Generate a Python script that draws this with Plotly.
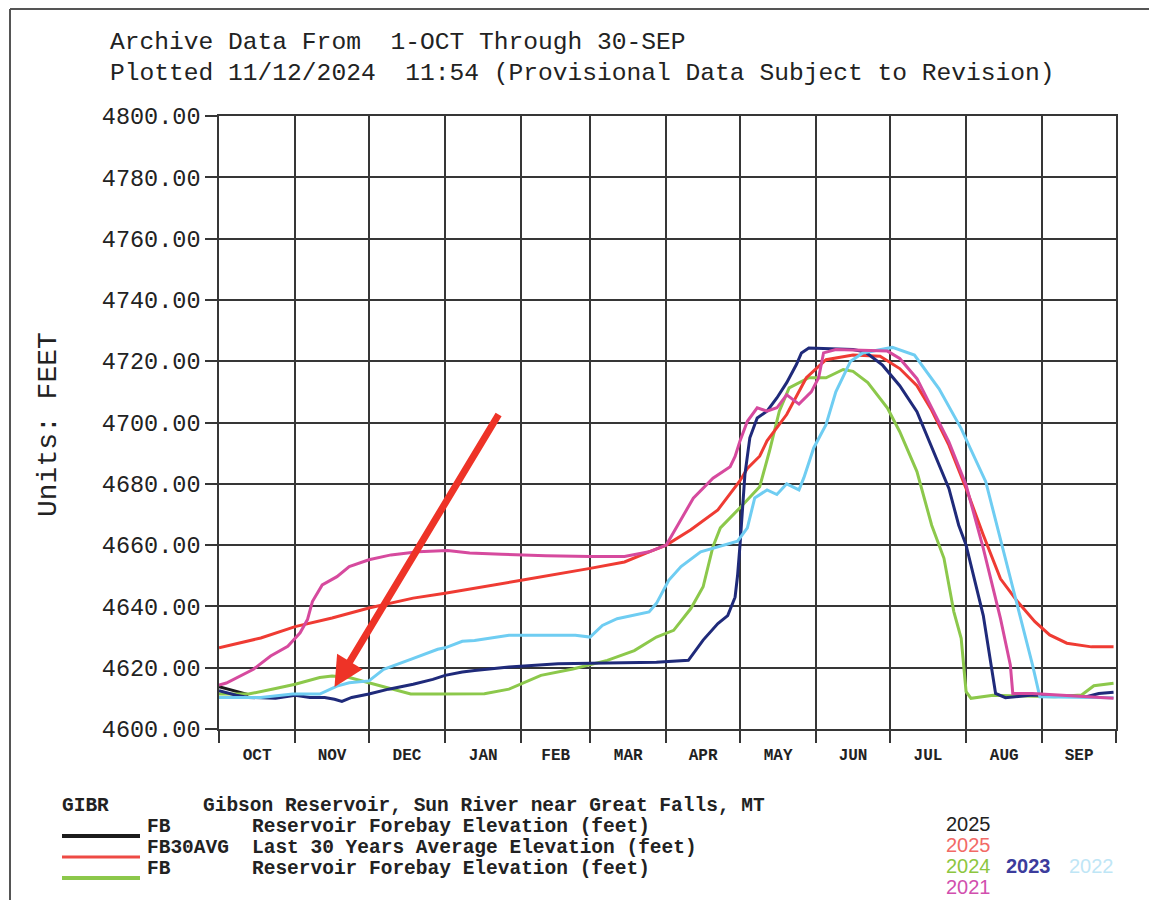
import plotly.graph_objects as go

# ---------------- data ----------------
month_starts = ["2024-10-01", "2024-11-01", "2024-12-01", "2025-01-01", "2025-02-01",
                "2025-03-01", "2025-04-01", "2025-05-01", "2025-06-01", "2025-07-01",
                "2025-08-01", "2025-09-01", "2025-10-01"]
month_mids = ["2024-10-16 12:00", "2024-11-16", "2024-12-16 12:00", "2025-01-16 12:00",
              "2025-02-15", "2025-03-16 12:00", "2025-04-16", "2025-05-16 12:00",
              "2025-06-16", "2025-07-16 12:00", "2025-08-16 12:00", "2025-09-16"]
month_labels = ["OCT", "NOV", "DEC", "JAN", "FEB", "MAR", "APR", "MAY", "JUN", "JUL", "AUG", "SEP"]
y_ticks = [4600, 4620, 4640, 4660, 4680, 4700, 4720, 4740, 4760, 4780, 4800]

wy2025_dates = ["2024-10-01", "2024-10-07", "2024-10-13"]
wy2025_vals = [4613.8, 4612.4, 4611.2]

avg30_dates = ["2024-10-01", "2024-10-18", "2024-11-01", "2024-11-16", "2024-12-01", "2024-12-19",
               "2025-01-01", "2025-01-08", "2025-02-01", "2025-03-01", "2025-03-15", "2025-03-25",
               "2025-04-01", "2025-04-11", "2025-04-22", "2025-05-01", "2025-05-04", "2025-05-09",
               "2025-05-12", "2025-05-20", "2025-05-28", "2025-06-05", "2025-06-16", "2025-06-27",
               "2025-07-05", "2025-07-12", "2025-07-18", "2025-07-25", "2025-08-01", "2025-08-08",
               "2025-08-15", "2025-08-22", "2025-08-29", "2025-09-04", "2025-09-11", "2025-09-21",
               "2025-09-30"]
avg30_vals = [4626.5, 4629.7, 4633.4, 4636.2, 4639.5, 4642.7,
              4644.3, 4645.3, 4648.5, 4652.4, 4654.5, 4657.8,
              4660.0, 4665.0, 4671.5, 4681.0, 4685.0, 4689.0,
              4694.0, 4702.6, 4714.6, 4720.5, 4722.0, 4721.6,
              4717.6, 4712.0, 4704.0, 4692.6, 4678.5, 4663.3,
              4649.0, 4641.5, 4635.0, 4630.7, 4628.0, 4626.8,
              4626.8]

wy2024_dates = ["2024-10-01", "2024-10-13", "2024-10-24", "2024-11-01", "2024-11-11", "2024-11-16",
                "2024-11-23", "2024-12-01", "2024-12-10", "2024-12-18", "2024-12-29", "2025-01-17",
                "2025-01-27", "2025-02-09", "2025-02-22", "2025-03-08", "2025-03-19", "2025-03-28",
                "2025-04-04", "2025-04-11", "2025-04-16", "2025-04-18", "2025-04-20", "2025-04-23",
                "2025-04-29", "2025-05-01", "2025-05-09", "2025-05-13", "2025-05-17", "2025-05-21",
                "2025-05-29", "2025-06-05", "2025-06-12", "2025-06-16", "2025-06-22", "2025-06-30",
                "2025-07-05", "2025-07-12", "2025-07-18", "2025-07-23", "2025-07-27", "2025-07-30",
                "2025-08-01", "2025-08-03", "2025-08-12", "2025-09-06", "2025-09-17", "2025-09-22",
                "2025-09-30"]
wy2024_vals = [4611.4, 4611.4, 4613.2, 4614.6, 4616.8, 4617.3,
               4616.8, 4615.0, 4613.0, 4611.4, 4611.4, 4611.5,
               4613.0, 4617.5, 4619.6, 4622.4, 4625.6, 4630.0,
               4632.2, 4639.3, 4646.4, 4652.6, 4659.5, 4665.6,
               4670.4, 4672.2, 4679.0, 4690.7, 4703.7, 4711.3,
               4714.6, 4714.6, 4717.3, 4716.7, 4713.0, 4704.7,
               4697.0, 4684.0, 4666.5, 4655.7, 4638.3, 4629.6,
               4612.2, 4610.0, 4611.0, 4610.5, 4611.1, 4614.1,
               4614.9]

wy2023_dates = ["2024-10-01", "2024-10-08", "2024-10-13", "2024-10-24", "2024-11-01", "2024-11-07",
                "2024-11-13", "2024-11-17", "2024-11-20", "2024-11-24", "2024-12-01", "2024-12-09",
                "2024-12-19", "2024-12-27", "2025-01-01", "2025-01-08", "2025-01-13", "2025-01-27",
                "2025-02-16", "2025-03-08", "2025-03-28", "2025-04-10", "2025-04-16", "2025-04-22",
                "2025-04-26", "2025-04-29", "2025-04-30", "2025-05-01", "2025-05-02", "2025-05-03",
                "2025-05-05", "2025-05-08", "2025-05-12", "2025-05-16", "2025-05-20", "2025-05-24",
                "2025-05-26", "2025-05-29", "2025-06-16", "2025-06-21", "2025-06-28", "2025-07-05",
                "2025-07-12", "2025-07-18", "2025-07-25", "2025-07-29", "2025-08-01", "2025-08-08",
                "2025-08-13", "2025-08-17", "2025-08-28", "2025-09-19", "2025-09-24", "2025-09-30"]
wy2023_vals = [4612.5, 4611.0, 4610.3, 4610.0, 4611.0, 4610.3,
               4610.3, 4609.7, 4609.0, 4610.3, 4611.4, 4613.0,
               4614.6, 4616.2, 4617.5, 4618.6, 4619.1, 4620.2,
               4621.3, 4621.5, 4621.8, 4622.4, 4629.0, 4634.4,
               4637.0, 4643.0, 4650.0, 4660.0, 4672.0, 4683.0,
               4695.0, 4701.5, 4703.7, 4708.0, 4713.0, 4719.0,
               4722.7, 4724.3, 4723.8, 4723.0, 4718.7, 4712.0,
               4703.5, 4692.0, 4678.5, 4666.5, 4660.0, 4637.0,
               4611.6, 4610.2, 4611.1, 4610.5, 4611.6, 4612.0]

wy2022_dates = ["2024-10-01", "2024-10-18", "2024-10-31", "2024-11-11", "2024-11-18", "2024-11-23",
                "2024-12-01", "2024-12-07", "2024-12-18", "2024-12-29", "2025-01-01", "2025-01-08",
                "2025-01-13", "2025-01-27", "2025-02-23", "2025-03-01", "2025-03-06", "2025-03-12",
                "2025-03-25", "2025-03-28", "2025-04-02", "2025-04-07", "2025-04-15", "2025-04-22",
                "2025-04-30", "2025-05-04", "2025-05-07", "2025-05-12", "2025-05-16", "2025-05-20",
                "2025-05-25", "2025-05-27", "2025-05-31", "2025-06-05", "2025-06-09", "2025-06-15",
                "2025-06-20", "2025-07-02", "2025-07-11", "2025-07-21", "2025-07-30", "2025-08-09",
                "2025-08-15", "2025-08-22", "2025-08-28", "2025-08-31", "2025-09-30"]
wy2022_vals = [4610.3, 4610.3, 4611.4, 4611.4, 4614.0, 4615.1,
               4615.7, 4619.5, 4622.7, 4626.0, 4626.5, 4628.6,
               4628.9, 4630.6, 4630.6, 4630.0, 4633.8, 4636.0,
               4638.2, 4641.0, 4648.5, 4653.0, 4657.8, 4659.5,
               4661.3, 4665.6, 4675.4, 4678.0, 4676.5, 4680.0,
               4678.0, 4682.0, 4691.7, 4699.3, 4710.0, 4720.0,
               4722.7, 4724.5, 4722.0, 4711.0, 4698.0, 4680.7,
               4662.0, 4640.4, 4621.0, 4610.5, 4610.2]

wy2021_dates = ["2024-10-01", "2024-10-04", "2024-10-15", "2024-10-22", "2024-10-29", "2024-11-03",
                "2024-11-06", "2024-11-08", "2024-11-12", "2024-11-18", "2024-11-23", "2024-12-01",
                "2024-12-10", "2024-12-21", "2025-01-02", "2025-01-11", "2025-01-24", "2025-02-11",
                "2025-03-01", "2025-03-15", "2025-03-25", "2025-04-01", "2025-04-06", "2025-04-12",
                "2025-04-20", "2025-04-27", "2025-04-29", "2025-05-01", "2025-05-04", "2025-05-08",
                "2025-05-12", "2025-05-16", "2025-05-20", "2025-05-25", "2025-05-30", "2025-06-02",
                "2025-06-04", "2025-06-09", "2025-06-30", "2025-07-05", "2025-07-12", "2025-07-18",
                "2025-07-25", "2025-08-01", "2025-08-08", "2025-08-15", "2025-08-19", "2025-08-20",
                "2025-08-28", "2025-09-30"]
wy2021_vals = [4614.3, 4615.0, 4619.5, 4623.8, 4627.0, 4631.4,
               4635.7, 4641.6, 4647.0, 4649.7, 4653.0, 4655.2,
               4656.8, 4657.8, 4658.2, 4657.4, 4657.0, 4656.5,
               4656.3, 4656.3, 4657.8, 4660.0, 4667.0, 4675.3,
               4681.8, 4685.6, 4688.9, 4694.0, 4700.4, 4704.8,
               4703.7, 4704.8, 4709.0, 4706.0, 4710.0, 4714.6,
               4722.7, 4723.8, 4723.3, 4720.9, 4714.3, 4704.6,
               4693.7, 4679.6, 4658.9, 4636.0, 4620.9, 4611.6,
               4611.6, 4610.0]

# ---------------- styling ----------------
C_BLACK = "#1c1c1c"
C_RED = "#ef3b33"
C_GREEN = "#8cc84b"
C_NAVY = "#1f2a7a"
C_LBLUE = "#6fcdf2"
C_MAG = "#d64a9e"
GRID = "#363636"
MONO = "Liberation Mono, Courier New, monospace"

OFF = 8  # page body margin of the html page
W, H = 1157 - OFF, 900 - OFF
PLOT_L, PLOT_R, PLOT_T, PLOT_B = 219, 1116, 116, 729   # target page pixels
L, T = PLOT_L - OFF, PLOT_T - OFF
R, B = W - (PLOT_R - OFF), H - (PLOT_B - OFF)
PW, PH = W - L - R, H - T - B


def px(x):
    return (x - OFF - L) / PW


def py(y):
    return (H - B - (y - OFF)) / PH


fig = go.Figure()

series = [
    (wy2025_dates, wy2025_vals, C_BLACK, 3),
    (wy2024_dates, wy2024_vals, C_GREEN, 3),
    (avg30_dates, avg30_vals, C_RED, 3),
    (wy2023_dates, wy2023_vals, C_NAVY, 3),
    (wy2022_dates, wy2022_vals, C_LBLUE, 3),
    (wy2021_dates, wy2021_vals, C_MAG, 3),
]
for d, v, c, w in series:
    fig.add_trace(go.Scatter(x=d, y=v, mode="lines", line=dict(color=c, width=w),
                             showlegend=False, hoverinfo="skip"))

fig.update_layout(
    width=W, height=H,
    margin=dict(l=L, r=R, t=T, b=B, pad=0),
    paper_bgcolor="white", plot_bgcolor="white",
    showlegend=False,
    xaxis=dict(
        type="date", range=["2024-10-01", "2025-10-01"],
        tickmode="array", tickvals=month_mids, ticktext=month_labels,
        ticks="outside", ticklen=10, tickcolor="rgba(0,0,0,0)",
        showgrid=False, zeroline=False,
        tickfont=dict(family=MONO, size=16, color="#222", weight="bold"),
        showline=True, linecolor=GRID, linewidth=1.6, mirror=True,
        minor=dict(tickmode="array", tickvals=month_starts, ticks="outside", ticklen=12,
                   tickwidth=1.6, tickcolor=GRID, showgrid=True, gridcolor=GRID, gridwidth=1.6),
    ),
    yaxis=dict(
        range=[4600, 4800], tickmode="array", tickvals=y_ticks,
        tickformat=".2f", ticks="outside", ticklen=12, tickwidth=1.6, tickcolor=GRID,
        showgrid=True, gridcolor=GRID, gridwidth=1.6, zeroline=False,
        tickfont=dict(family=MONO, size=23.5, color="#222"),
        showline=True, linecolor=GRID, linewidth=1.6, mirror=True,
        ticklabelstandoff=0,
    ),
)

# outer frame (left + top edges of the scanned page)
for x0, y0, x1, y1 in [(10, 9, 10, 1000), (10, 9, 1250, 9)]:
    fig.add_shape(type="line", xref="paper", yref="paper",
                  x0=px(x0), x1=px(x1), y0=py(y0), y1=py(y1),
                  line=dict(color="#555", width=2), layer="below")

# red arrow pointing at November
fig.add_annotation(x="2024-11-17", y=4613.7, xref="x", yref="y",
                   ax=165, ay=-274, axref="pixel", ayref="pixel",
                   text="", showarrow=True, arrowhead=2, arrowsize=0.85,
                   arrowwidth=7, arrowcolor="#ee3327")


def txt(x, y, s, size, color="#222", family=MONO, angle=0, xanchor="left", weight="normal"):
    fig.add_annotation(x=px(x), y=py(y), xref="paper", yref="paper", text=s,
                       showarrow=False, xanchor=xanchor, yanchor="middle", textangle=angle,
                       font=dict(family=family, size=size, color=color, weight=weight))


# header
txt(108, 42, "Archive Data From&nbsp;&nbsp;1-OCT Through 30-SEP", 24.6)
txt(108, 73, "Plotted 11/12/2024&nbsp;&nbsp;11:54 (Provisional Data Subject to Revision)", 24.6)
# y-axis title
txt(48, 425, "Units: FEET", 28, angle=-90, xanchor="center")

# legend block
LEG = 19.5
txt(60, 806, "GIBR", LEG, weight="bold")
txt(201, 806, "Gibson Reservoir, Sun River near Great Falls, MT", LEG, weight="bold")
txt(145, 827, "FB", LEG, weight="bold")
txt(250, 827, "Reservoir Forebay Elevation (feet)", LEG, weight="bold")
txt(145, 848, "FB30AVG", LEG, weight="bold")
txt(250, 848, "Last 30 Years Average Elevation (feet)", LEG, weight="bold")
txt(145, 869, "FB", LEG, weight="bold")
txt(250, 869, "Reservoir Forebay Elevation (feet)", LEG, weight="bold")

for yy, col, wd in [(836, C_BLACK, 4), (857, "#ee4a44", 3), (878, C_GREEN, 4)]:
    fig.add_shape(type="line", xref="paper", yref="paper",
                  x0=px(62), x1=px(140), y0=py(yy), y1=py(yy),
                  line=dict(color=col, width=wd))

# year colour key
SANS = "Liberation Sans, Arial, sans-serif"
txt(944, 824, "2025", 20, color="#222", family=SANS)
txt(944, 845, "2025", 20, color="#f26a66", family=SANS)
txt(944, 866, "2024", 20, color="#8dc63f", family=SANS)
txt(1004, 866, "2023", 20, color="#3c3c9c", family=SANS, weight="bold")
txt(1067, 866, "2022", 20, color="#bfe6f6", family=SANS)
txt(944, 887, "2021", 20, color="#d14fae", family=SANS)

fig.write_html("out.html")
